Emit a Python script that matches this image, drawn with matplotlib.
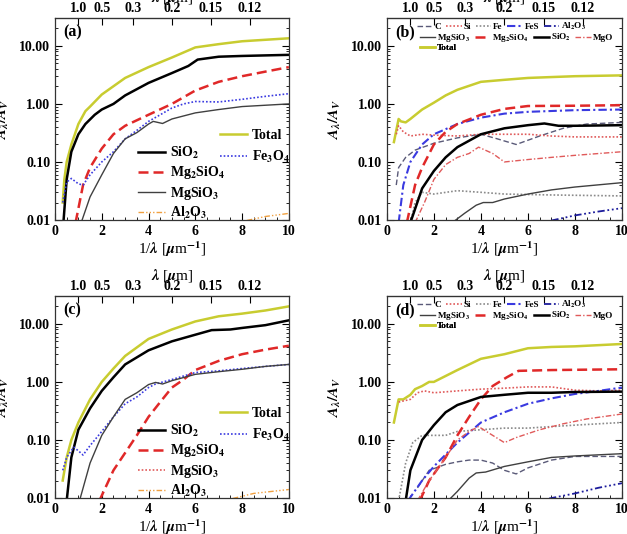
import numpy as np
import matplotlib
matplotlib.use("Agg")
import matplotlib.pyplot as plt
from matplotlib.lines import Line2D
from matplotlib.ticker import MultipleLocator, LogLocator, NullFormatter

plt.rcParams['font.family'] = ['Liberation Serif', 'DejaVu Serif']
plt.rcParams['font.weight'] = 'bold'
plt.rcParams['mathtext.fontset'] = 'stix'
plt.rcParams['font.size'] = 10

# top axis: wavelength labels
lam_labels = ['1.0', '0.5', '0.3', '0.2', '0.15', '0.12']
lam_values = [1.0, 0.5, 0.3, 0.2, 0.15, 0.12]

# ---------------- panel (a) ----------------
a_total_x = [0.33, 0.4, 0.5, 0.7, 1.0, 1.3, 1.5, 2.0, 3.0, 4.0, 5.0, 6.0, 7.0, 8.0, 10.0]
a_total_y = [0.02, 0.05, 0.1, 0.2, 0.45, 0.75, 0.9, 1.45, 2.8, 4.3, 6.3, 9.4, 10.7, 12.0, 13.5]
a_sio2_x = [0.35, 0.5, 0.7, 1.0, 1.3, 1.7, 2.0, 2.5, 3.0, 4.0, 5.0, 5.7, 6.1, 7.0, 8.0, 10.0]
a_sio2_y = [0.008, 0.05, 0.15, 0.3, 0.45, 0.65, 0.8, 1.0, 1.4, 2.3, 3.4, 4.5, 5.8, 6.5, 6.7, 7.0]
a_mg2_x = [0.88, 1.2, 1.5, 2.0, 2.5, 3.0, 4.0, 5.0, 6.0, 7.0, 8.0, 9.0, 10.0]
a_mg2_y = [0.009, 0.04, 0.08, 0.17, 0.3, 0.42, 0.65, 1.0, 1.7, 2.4, 3.0, 3.6, 4.3]
a_fe3o4_x = [0.33, 0.5, 0.7, 1.0, 1.2, 1.5, 2.0, 2.5, 3.0, 3.5, 4.0, 4.5, 5.0, 5.5, 6.0, 7.0, 8.0, 9.0, 10.0]
a_fe3o4_y = [0.02, 0.045, 0.052, 0.042, 0.04, 0.06, 0.1, 0.15, 0.25, 0.35, 0.5, 0.65, 0.85, 1.0, 1.1, 1.08, 1.2, 1.35, 1.5]
a_mgsio3_x = [1.12, 1.5, 2.0, 2.5, 3.0, 3.5, 4.0, 4.2, 4.6, 5.0, 6.0, 7.0, 8.0, 10.0]
a_mgsio3_y = [0.009, 0.025, 0.06, 0.14, 0.25, 0.32, 0.45, 0.5, 0.46, 0.55, 0.7, 0.8, 0.9, 1.0]
a_al2o3_x = [8.2, 9.0, 10.0]
a_al2o3_y = [0.0098, 0.0115, 0.013]

# ---------------- panel (b) ----------------
b_total_x = [0.3, 0.5, 0.6, 0.8, 1.0, 1.5, 2.0, 2.5, 3.0, 4.0, 5.0, 6.0, 7.0, 8.0, 10.0]
b_total_y = [0.22, 0.55, 0.5, 0.48, 0.55, 0.8, 1.05, 1.4, 1.75, 2.4, 2.6, 2.8, 2.9, 3.0, 3.1]
b_mg2_x = [0.85, 1.2, 1.5, 2.0, 2.5, 3.0, 4.0, 5.0, 6.0, 8.0, 10.0]
b_mg2_y = [0.009, 0.04, 0.08, 0.2, 0.33, 0.45, 0.65, 0.82, 0.92, 0.93, 0.95]
b_fes_x = [0.5, 0.7, 1.0, 1.5, 2.0, 3.0, 4.0, 5.0, 6.0, 8.0, 10.0]
b_fes_y = [0.009, 0.04, 0.1, 0.2, 0.3, 0.45, 0.58, 0.68, 0.73, 0.78, 0.8]
b_sio2_x = [1.0, 1.5, 2.0, 2.5, 3.0, 4.0, 5.0, 6.0, 6.7, 7.3, 8.0, 10.0]
b_sio2_y = [0.009, 0.035, 0.07, 0.12, 0.18, 0.3, 0.38, 0.43, 0.46, 0.42, 0.42, 0.43]
b_c_x = [0.4, 0.5, 0.8, 1.2, 2.0, 3.0, 4.0, 4.7, 5.5, 6.5, 7.5, 8.5, 10.0]
b_c_y = [0.04, 0.08, 0.12, 0.16, 0.21, 0.26, 0.3, 0.25, 0.2, 0.28, 0.38, 0.45, 0.48]
b_si_x = [0.4, 0.5, 0.7, 1.0, 1.5, 2.0, 3.0, 4.0, 5.0, 6.0, 7.0, 8.0, 10.0]
b_si_y = [0.3, 0.42, 0.33, 0.28, 0.3, 0.29, 0.28, 0.3, 0.3, 0.3, 0.28, 0.27, 0.27]
b_fe_x = [1.0, 1.2, 1.5, 2.0, 3.0, 4.0, 5.0, 7.0, 10.0]
b_fe_y = [0.009, 0.02, 0.03, 0.028, 0.032, 0.03, 0.028, 0.027, 0.026]
b_mgo_x = [1.2, 1.6, 2.0, 2.5, 3.0, 3.5, 3.9, 4.5, 5.0, 6.0, 7.0, 8.0, 10.0]
b_mgo_y = [0.009, 0.02, 0.05, 0.09, 0.12, 0.14, 0.18, 0.14, 0.1, 0.11, 0.12, 0.13, 0.15]
b_mgsio3_x = [2.9, 3.3, 3.8, 4.1, 4.5, 5.0, 6.0, 7.0, 8.0, 10.0]
b_mgsio3_y = [0.0098, 0.013, 0.018, 0.02, 0.02, 0.023, 0.028, 0.033, 0.037, 0.044]
b_al2o3_x = [7.0, 8.0, 9.0, 10.0]
b_al2o3_y = [0.0098, 0.012, 0.014, 0.016]

# ---------------- panel (c) ----------------
c_total_x = [0.33, 0.5, 0.7, 1.0, 1.5, 2.0, 2.5, 3.0, 4.0, 5.0, 6.0, 7.0, 8.0, 9.0, 10.0]
c_total_y = [0.02, 0.05, 0.1, 0.2, 0.5, 1.0, 1.7, 2.8, 5.5, 8.0, 11.0, 13.5, 15.0, 17.0, 20.0]
c_sio2_x = [0.5, 0.7, 1.0, 1.5, 2.0, 2.5, 3.0, 4.0, 5.0, 6.0, 6.7, 7.5, 8.0, 9.0, 10.0]
c_sio2_y = [0.009, 0.05, 0.15, 0.35, 0.7, 1.2, 2.0, 3.5, 5.0, 6.5, 7.8, 8.0, 8.5, 9.5, 11.5]
c_mg2_x = [1.9, 2.5, 3.0, 3.5, 4.0, 4.5, 5.0, 5.5, 6.0, 7.0, 8.0, 9.0, 10.0]
c_mg2_y = [0.009, 0.03, 0.06, 0.12, 0.25, 0.45, 0.8, 1.1, 1.6, 2.3, 3.0, 3.6, 4.2]
c_fe3o4_x = [0.33, 0.5, 0.8, 1.0, 1.2, 1.5, 2.0, 2.5, 3.0, 3.5, 4.0, 4.3, 5.0, 6.0, 7.0, 8.0, 9.0, 10.0]
c_fe3o4_y = [0.03, 0.05, 0.075, 0.065, 0.055, 0.08, 0.14, 0.25, 0.42, 0.55, 0.8, 0.92, 1.1, 1.45, 1.55, 1.7, 1.85, 2.0]
c_thin_x = [1.05, 1.5, 2.0, 2.5, 3.0, 3.5, 4.0, 4.3, 4.6, 5.0, 6.0, 7.0, 8.0, 9.0, 10.0]
c_thin_y = [0.009, 0.04, 0.12, 0.25, 0.5, 0.65, 0.9, 0.98, 0.92, 1.05, 1.35, 1.5, 1.65, 1.85, 2.0]
c_al2o3_x = [7.6, 8.5, 10.0]
c_al2o3_y = [0.0098, 0.012, 0.014]

# ---------------- panel (d) ----------------
d_total_x = [0.3, 0.5, 0.7, 1.0, 1.2, 1.5, 1.8, 2.0, 3.0, 4.0, 5.0, 6.0, 7.0, 8.0, 10.0]
d_total_y = [0.2, 0.5, 0.5, 0.6, 0.75, 0.85, 1.0, 1.0, 1.6, 2.5, 3.0, 3.8, 4.0, 4.1, 4.5]
d_si_x = [0.5, 1.0, 1.3, 1.6, 2.0, 3.0, 4.0, 5.0, 6.0, 7.0, 8.0, 9.0, 10.0]
d_si_y = [0.45, 0.5, 0.65, 0.7, 0.65, 0.7, 0.75, 0.78, 0.82, 0.82, 0.72, 0.7, 0.72]
d_mg2_x = [1.4, 1.8, 2.5, 3.0, 3.5, 4.0, 4.5, 5.1, 5.6, 7.0, 10.0]
d_mg2_y = [0.009, 0.02, 0.05, 0.12, 0.25, 0.5, 0.85, 1.2, 1.55, 1.6, 1.65]
d_sio2_x = [0.8, 1.0, 1.5, 2.0, 2.5, 3.0, 4.0, 5.0, 6.0, 7.0, 8.0, 10.0]
d_sio2_y = [0.009, 0.03, 0.1, 0.18, 0.3, 0.4, 0.55, 0.6, 0.65, 0.65, 0.67, 0.68]
d_fes_x = [0.9, 1.5, 2.0, 3.0, 4.0, 5.0, 6.0, 7.0, 8.0, 9.0, 10.0]
d_fes_y = [0.009, 0.02, 0.035, 0.09, 0.2, 0.3, 0.42, 0.52, 0.62, 0.7, 0.8]
d_mgo_x = [1.3, 1.8, 2.5, 3.0, 3.5, 3.9, 4.5, 5.0, 5.5, 6.5, 7.5, 8.5, 10.0]
d_mgo_y = [0.009, 0.02, 0.05, 0.1, 0.14, 0.17, 0.12, 0.09, 0.11, 0.15, 0.19, 0.23, 0.28]
d_fe_x = [0.5, 0.8, 1.1, 1.5, 2.0, 2.5, 3.0, 4.0, 5.0, 6.0, 7.0, 8.0, 10.0]
d_fe_y = [0.009, 0.04, 0.09, 0.12, 0.12, 0.12, 0.14, 0.15, 0.16, 0.16, 0.17, 0.18, 0.2]
d_c_x = [1.3, 1.8, 2.5, 3.0, 3.5, 4.0, 4.5, 5.0, 5.5, 6.0, 7.0, 8.0, 10.0]
d_c_y = [0.015, 0.03, 0.038, 0.042, 0.045, 0.045, 0.04, 0.03, 0.026, 0.033, 0.045, 0.052, 0.052]
d_mgsio3_x = [2.7, 3.0, 3.5, 3.8, 4.2, 5.0, 6.0, 7.0, 8.0, 10.0]
d_mgsio3_y = [0.0098, 0.013, 0.022, 0.027, 0.028, 0.035, 0.042, 0.05, 0.053, 0.058]
d_al2o3_x = [6.9, 8.0, 9.0, 10.0]
d_al2o3_y = [0.0098, 0.012, 0.015, 0.018]

# styles
YEL = '#c8cc30'
RED = '#e02828'
BLUE = '#3a3ae0'
NAVY = '#1c1c9c'
ORANGE = '#f0a040'
GRAY = '#404040'
LGRAY = '#8a8a8a'
PINK = '#e05a5a'
DASH = (0, (4, 2))
DOT = (0, (1, 1.2))
DASHDOT = (0, (4, 1.5, 1, 1.5))
DASHDOT3 = (0, (4, 1.5, 1, 1.5, 1, 1.5, 1, 1.5))

st = {
    'Total': dict(color=YEL, lw=1.8, ls='-'),
    'SiO2': dict(color='black', lw=1.8, ls='-'),
    'Mg2SiO4': dict(color=RED, lw=1.8, ls=DASH),
    'Fe3O4': dict(color=BLUE, lw=1.2, ls=DOT),
    'MgSiO3': dict(color=GRAY, lw=1.0, ls='-'),
    'MgSiO3_c': dict(color=PINK, lw=1.2, ls=DOT),
    'Al2O3_a': dict(color=ORANGE, lw=1.0, ls=DASHDOT3),
    'Al2O3': dict(color=NAVY, lw=1.3, ls=DASHDOT3),
    'C': dict(color='#5a5a78', lw=1.0, ls=DASH),
    'Si': dict(color=PINK, lw=1.2, ls=DOT),
    'Fe': dict(color=LGRAY, lw=1.2, ls=DOT),
    'FeS': dict(color=BLUE, lw=1.5, ls=DASHDOT),
    'MgO': dict(color=PINK, lw=1.0, ls=DASHDOT),
}

labels = {
    'Total': 'Total', 'SiO2': r'SiO$_2$', 'Mg2SiO4': r'Mg$_2$SiO$_4$', 'Fe3O4': r'Fe$_3$O$_4$',
    'MgSiO3': r'MgSiO$_3$', 'MgSiO3_c': r'MgSiO$_3$', 'Al2O3_a': r'Al$_2$O$_3$', 'Al2O3': r'Al$_2$O$_3$',
    'C': 'C', 'Si': 'Si', 'Fe': 'Fe', 'FeS': 'FeS', 'MgO': 'MgO',
}

fig = plt.figure(figsize=(6.27, 5.34), dpi=100)
pos = {
    'a': [0.0877, 0.588, 0.373, 0.378],
    'b': [0.617, 0.588, 0.375, 0.378],
    'c': [0.0877, 0.0674, 0.373, 0.378],
    'd': [0.617, 0.0674, 0.375, 0.378],
}


def setup(ax, tag):
    ax.set_yscale('log')
    ax.set_xlim(0, 10)
    ax.set_ylim(0.01, 30)
    ax.set_yticks([0.01, 0.1, 1, 10])
    ax.set_yticklabels(['0.01', '0.10', '1.00', '10.00'])
    ax.yaxis.set_minor_locator(LogLocator(base=10, subs=np.arange(2, 10)))
    ax.yaxis.set_minor_formatter(NullFormatter())
    ax.xaxis.set_major_locator(MultipleLocator(2))
    ax.xaxis.set_minor_locator(MultipleLocator(0.5))
    ax.tick_params(which='both', direction='in', right=True, top=False, labelsize=10)
    ax.tick_params(which='major', length=5)
    ax.tick_params(which='minor', length=2.5)
    for s in ax.spines.values():
        s.set_linewidth(0.9)
        s.set_color('#333333')
    ax.set_xlabel(r'1/$\lambda$ [$\mu$m$^{-1}$]', fontsize=11, labelpad=1)
    ax.set_ylabel(r'$A_\lambda/A_V$', fontsize=11, labelpad=6)
    sec = ax.secondary_xaxis('top')
    sec.set_xticks([1.0 / v for v in lam_values])
    sec.set_xticklabels(lam_labels)
    sec.tick_params(direction='in', length=5, labelsize=10, pad=2)
    sec.set_xlabel(r'$\lambda$ [$\mu$m]', fontsize=11, labelpad=0)
    ax.text(0.035, 0.93, '(' + tag + ')', transform=ax.transAxes, fontsize=11.5,
            fontweight='bold', va='center', ha='left')


def handle(key):
    return Line2D([], [], **st[key])


def legend_cols(ax):
    keys1 = ['SiO2', 'Mg2SiO4', 'MgSiO3' if ax is axa else 'MgSiO3_c', 'Al2O3_a']
    leg1 = ax.legend([handle(k) for k in keys1], [labels[k] for k in keys1], loc='upper left',
                     bbox_to_anchor=(0.33, 0.40), frameon=False, fontsize=10, handlelength=2.0,
                     handletextpad=0.3, labelspacing=0.25, borderaxespad=0)
    ax.add_artist(leg1)
    keys2 = ['Total', 'Fe3O4']
    ax.legend([handle(k) for k in keys2], [labels[k] for k in keys2], loc='upper left',
              bbox_to_anchor=(0.68, 0.48), frameon=False, fontsize=10, handlelength=2.0,
              handletextpad=0.3, labelspacing=0.55, borderaxespad=0)


def legend_rows(ax):
    rows = [(['C', 'Si', 'Fe', 'FeS', 'Al2O3'], 0.13, 0.985),
            (['MgSiO3', 'Mg2SiO4', 'SiO2', 'MgO'], 0.14, 0.93),
            (['Total'], 0.14, 0.872)]
    for keys, x0, y0 in rows:
        lg = ax.legend([handle(k) for k in keys], [labels[k] for k in keys], loc='upper left',
                       bbox_to_anchor=(x0, y0), ncol=len(keys), frameon=False, fontsize=6.6,
                       handlelength=1.7, handletextpad=0.2, columnspacing=0.5, borderaxespad=0,
                       borderpad=0)
        ax.add_artist(lg)


# panel (a)
axa = fig.add_axes(pos['a'])
setup(axa, 'a')
axa.plot(a_total_x, a_total_y, **st['Total'])
axa.plot(a_sio2_x, a_sio2_y, **st['SiO2'])
axa.plot(a_mg2_x, a_mg2_y, **st['Mg2SiO4'])
axa.plot(a_fe3o4_x, a_fe3o4_y, **st['Fe3O4'])
axa.plot(a_mgsio3_x, a_mgsio3_y, **st['MgSiO3'])
axa.plot(a_al2o3_x, a_al2o3_y, **st['Al2O3_a'])
legend_cols(axa)

# panel (b)
axb = fig.add_axes(pos['b'])
setup(axb, 'b')
axb.plot(b_total_x, b_total_y, **st['Total'])
axb.plot(b_c_x, b_c_y, **st['C'])
axb.plot(b_si_x, b_si_y, **st['Si'])
axb.plot(b_fe_x, b_fe_y, **st['Fe'])
axb.plot(b_fes_x, b_fes_y, **st['FeS'])
axb.plot(b_al2o3_x, b_al2o3_y, **st['Al2O3'])
axb.plot(b_mgsio3_x, b_mgsio3_y, **st['MgSiO3'])
axb.plot(b_mg2_x, b_mg2_y, **st['Mg2SiO4'])
axb.plot(b_sio2_x, b_sio2_y, **st['SiO2'])
axb.plot(b_mgo_x, b_mgo_y, **st['MgO'])
legend_rows(axb)

# panel (c)
axc = fig.add_axes(pos['c'])
setup(axc, 'c')
axc.plot(c_total_x, c_total_y, **st['Total'])
axc.plot(c_sio2_x, c_sio2_y, **st['SiO2'])
axc.plot(c_mg2_x, c_mg2_y, **st['Mg2SiO4'])
axc.plot(c_fe3o4_x, c_fe3o4_y, **st['Fe3O4'])
axc.plot(c_thin_x, c_thin_y, **st['MgSiO3'])
axc.plot(c_al2o3_x, c_al2o3_y, **st['Al2O3_a'])
legend_cols(axc)

# panel (d)
axd = fig.add_axes(pos['d'])
setup(axd, 'd')
axd.plot(d_total_x, d_total_y, **st['Total'])
axd.plot(d_c_x, d_c_y, **st['C'])
axd.plot(d_si_x, d_si_y, **st['Si'])
axd.plot(d_fe_x, d_fe_y, **st['Fe'])
axd.plot(d_fes_x, d_fes_y, **st['FeS'])
axd.plot(d_al2o3_x, d_al2o3_y, **st['Al2O3'])
axd.plot(d_mgsio3_x, d_mgsio3_y, **st['MgSiO3'])
axd.plot(d_mg2_x, d_mg2_y, **st['Mg2SiO4'])
axd.plot(d_sio2_x, d_sio2_y, **st['SiO2'])
axd.plot(d_mgo_x, d_mgo_y, **st['MgO'])
legend_rows(axd)

fig.savefig('out.png', dpi=100)
